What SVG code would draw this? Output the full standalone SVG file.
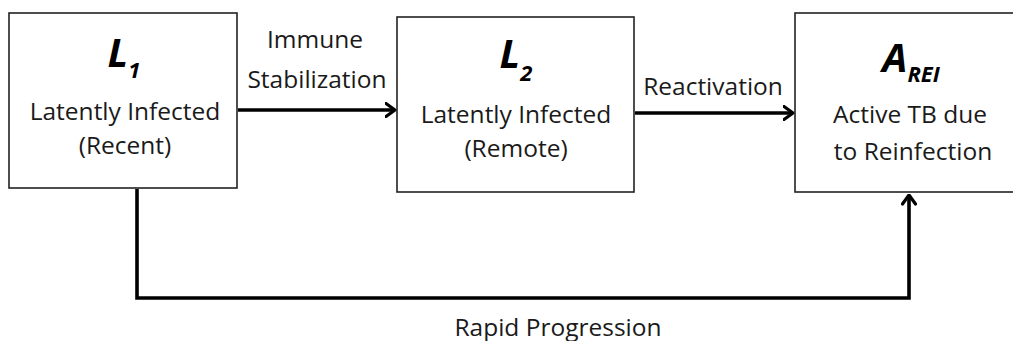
<svg xmlns="http://www.w3.org/2000/svg" width="1013" height="341" viewBox="0 0 1013 341">
<defs>
<marker id="arr" viewBox="0 0 12 16" refX="10.5" refY="8" markerWidth="12" markerHeight="16" markerUnits="userSpaceOnUse" orient="auto">
<path d="M1.5,1.5 L10.5,8 L1.5,14.5" fill="none" stroke="#000" stroke-width="3.2" stroke-linecap="round" stroke-linejoin="round"/>
</marker>
</defs>
<style>
.box{fill:#fff;stroke:#222;stroke-width:1.6}
.t{font-family:"Open Sans","Liberation Sans",sans-serif;font-size:24.5px;fill:#1a1a1a;text-anchor:middle}
.big{font-family:"Open Sans","Liberation Sans",sans-serif;font-size:40px;font-weight:bold;font-style:italic;fill:#000;text-anchor:middle}
.sub{font-size:22px}
.c{fill:none;stroke:#000;stroke-width:3.6;stroke-linejoin:miter}
</style>
<rect width="1013" height="341" fill="#fff"/>
<g id="connectors">
<line class="c" x1="238" y1="110" x2="395" y2="110" marker-end="url(#arr)"/>
<line class="c" x1="635" y1="113" x2="793" y2="113" marker-end="url(#arr)"/>
<polyline class="c" points="137,189 137,298 909,298 909,195" marker-end="url(#arr)"/>
<text class="t" x="315" y="48">Immune</text>
<text class="t" x="317" y="88">Stabilization</text>
<text class="t" x="713" y="95">Reactivation</text>
<text class="t" x="558" y="336">Rapid Progression</text>
</g>
<g id="L1">
<rect class="box" x="9" y="13" width="228" height="175"/>
<text class="big" x="124" y="67">L<tspan class="sub" dy="11">1</tspan></text>
<text class="t" x="125" y="120">Latently Infected</text>
<text class="t" x="125" y="154">(Recent)</text>
</g>
<g id="L2">
<rect class="box" x="397" y="17" width="237" height="175"/>
<text class="big" x="516" y="68">L<tspan class="sub" dy="13">2</tspan></text>
<text class="t" x="516" y="123">Latently Infected</text>
<text class="t" x="516" y="157">(Remote)</text>
</g>
<g id="AREI">
<rect class="box" x="795" y="13" width="240" height="179"/>
<text class="big" x="911" y="72">A<tspan class="sub" dy="10">REI</tspan></text>
<text class="t" x="910" y="123">Active TB due</text>
<text class="t" x="913" y="160">to Reinfection</text>
</g>
</svg>
